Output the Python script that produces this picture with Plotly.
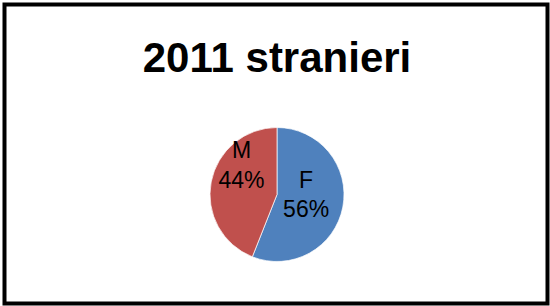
import plotly.graph_objects as go

labels = ["F", "M"]
values = [56, 44]
colors = ["#4F81BD", "#C0504D"]
title_text = "2011 stranieri"

W, H = 550, 306
cx, cy, r = 277, 194.5, 67

fig = go.Figure(go.Pie(
    labels=labels,
    values=values,
    sort=False,
    direction="clockwise",
    rotation=0,
    marker=dict(colors=colors, line=dict(color="#FFFFFF", width=0.7)),
    texttemplate=["%{label}<br>%{percent:.0%}", "%{label}<br>%{percent:.0%}<br> <br> "],
    textposition="inside",
    insidetextorientation="horizontal",
    textfont=dict(family="Liberation Sans", size=23, color="#000000"),
    domain=dict(x=[(cx - r) / W, (cx + r) / W], y=[(H - cy - r) / H, (H - cy + r) / H]),
    showlegend=False,
    hoverinfo="skip",
))

fig.update_layout(
    width=W, height=H,
    margin=dict(l=0, r=0, t=0, b=0),
    paper_bgcolor="#FFFFFF",
    plot_bgcolor="#FFFFFF",
    uniformtext=dict(minsize=23, mode="show"),
    title=dict(
        text=title_text,
        x=277 / W, xanchor="center",
        y=1 - 57 / H, yanchor="middle",
        font=dict(family="Liberation Sans", size=42, color="#000000", weight="bold"),
    ),
    shapes=[dict(
        type="rect", xref="paper", yref="paper",
        x0=4.5 / W, x1=547.5 / W, y0=1 - 303.5 / H, y1=1 - 4.5 / H,
        line=dict(color="#000000", width=4), fillcolor="rgba(0,0,0,0)",
    )],
)

fig.write_html("out.html", config={"displayModeBar": False},
               post_script="document.body.style.margin='0';document.body.style.overflow='hidden';")
